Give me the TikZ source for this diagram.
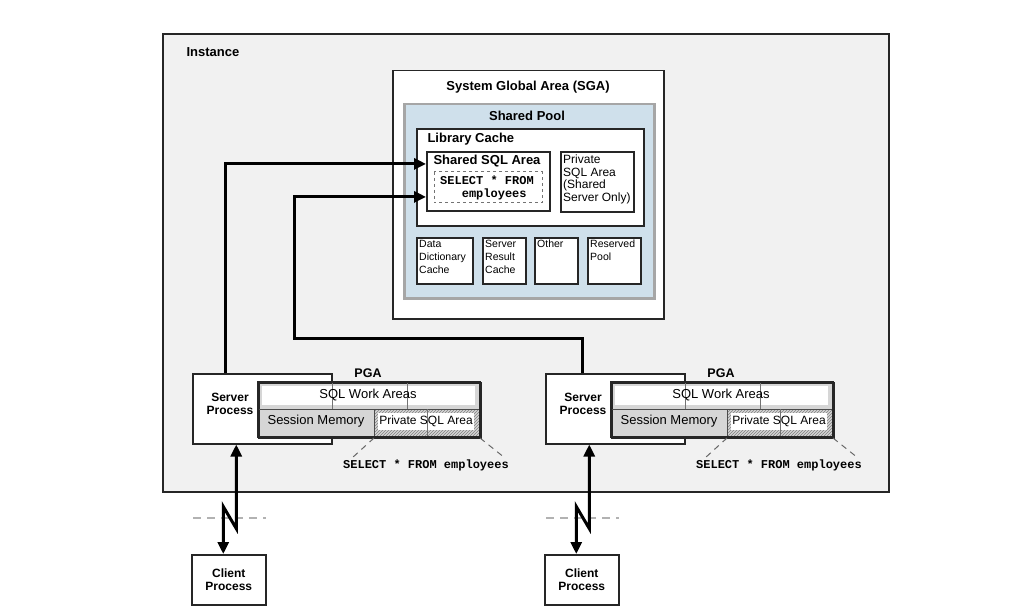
\documentclass[tikz,border=0pt]{standalone}
\usepackage{fontspec}
\setmainfont{Liberation Sans}
\setmonofont{Liberation Mono}
\usetikzlibrary{arrows.meta,patterns}
\definecolor{instgray}{HTML}{F1F1F1}
\definecolor{poolblue}{HTML}{CFE0EB}
\definecolor{pgagray}{HTML}{D6D6D6}
\tikzset{
  area/.style={draw=black!85, line width=1.5pt, fill=white, anchor=north west, inner sep=0pt},
  ttl/.style={font=\bfseries\fontsize{13}{14}\selectfont},
  txt/.style={font=\fontsize{13}{14}\selectfont},
  small/.style={font=\fontsize{10.5}{13}\selectfont, align=left, anchor=north west, inner sep=0pt},
  code/.style={font=\ttfamily\bfseries\fontsize{12}{13}\selectfont},
  link/.style={line width=3pt, -{Triangle[length=12pt,width=11pt]}},
}
\begin{document}
\begin{tikzpicture}[x=1pt,y=-1pt]
   \useasboundingbox (0,0) rectangle (1024,612);
   \fill[white] (0,0) rectangle (1024,612);
   % instance
   \node[area, fill=instgray, line width=1.7pt, minimum width=726pt, minimum height=458pt] (inst) at (162,33) {};
   \node[ttl, anchor=west] at (183,52) {Instance};
   % SGA
   \node[area, minimum width=271pt, minimum height=248pt] (sga) at (392,70) {};
   \node[ttl] at (528,87) {System Global Area (SGA)};
   \node[area, fill=poolblue, draw=black!35, line width=2.5pt, minimum width=250pt, minimum height=194pt] (pool) at (403,103) {};
   \node[ttl] at (527,116) {Shared Pool};
   \node[area, line width=1.8pt, minimum width=227pt, minimum height=97pt] (lib) at (416,128) {};
   \node[ttl, anchor=west] at (424,139) {Library Cache};
   \node[area, line width=1.8pt, minimum width=123pt, minimum height=59pt] (ssql) at (426,151) {};
   \node[ttl] at (487,161) {Shared SQL Area};
   \draw[dashed, draw=black!55, line width=1pt] (434,172) rectangle (542,203);
   \node[code, align=left] at (487,188) {SELECT * FROM\\\phantom{SEL}employees};
   \node[area, line width=1.8pt, minimum width=73pt, minimum height=60pt] (psql) at (560,151) {};
   \node[small, font=\fontsize{12}{12.5}\selectfont] at (563,155) {Private\\SQL Area\\(Shared\\Server Only)};
   \node[area, line width=1.8pt, minimum width=56pt, minimum height=46pt] (ddc) at (416,237) {};
   \node[small] at (419,240) {Data\\Dictionary\\Cache};
   \node[area, line width=1.8pt, minimum width=43pt, minimum height=46pt] (src) at (482,237) {};
   \node[small] at (485,240) {Server\\Result\\Cache};
   \node[area, line width=1.8pt, minimum width=43pt, minimum height=46pt] (oth) at (534,237) {};
   \node[small] at (537,240) {Other};
   \node[area, line width=1.8pt, minimum width=53pt, minimum height=46pt] (rsv) at (587,237) {};
   \node[small] at (590,240) {Reserved\\Pool};
   % server side, twice
   \foreach \i/\dx in {1/0,2/353}{
   \node[area, minimum width=139pt, minimum height=70pt] (srv\i) at (192+\dx,373) {};
   \node[ttl, font=\bfseries\fontsize{12}{12.5}\selectfont, align=center] at (230+\dx,404) {Server\\Process};
   \node[ttl, font=\bfseries\fontsize{12.5}{13}\selectfont] at (368+\dx,373) {PGA};
   \node[area, fill=pgagray, minimum width=222pt, minimum height=55pt] (pga\i) at (258+\dx,382) {};
   \fill[white] (262+\dx,386) rectangle (475+\dx,405);
   \fill[pattern=north east lines, pattern color=black!50] (374+\dx,409) rectangle (480+\dx,437);
   \fill[white] (378+\dx,413) rectangle (474+\dx,430);
   \draw[black!70, line width=1pt] (258+\dx,409) -- (480+\dx,409) (374+\dx,409) -- (374+\dx,437);
   \draw[black!55, line width=0.8pt] (332+\dx,382) -- (332+\dx,409) (407+\dx,382) -- (407+\dx,409)
   (427+\dx,409) -- (427+\dx,437);
   \draw[black!85, line width=1.5pt] (258+\dx,382) rectangle (480+\dx,437);
   \node[txt] at (368+\dx,395) {SQL Work Areas};
   \node[txt] at (316+\dx,421) {Session Memory};
   \node[txt, font=\fontsize{12}{13}\selectfont] at (426+\dx,421) {Private SQL Area};
   \draw[black!60, line width=1pt, dash pattern=on 6pt off 5pt] (374+\dx,438) -- (352+\dx,458) (480+\dx,438) -- (505+\dx,458);
   \node[code] at (426+\dx,465) {SELECT * FROM employees};
   % client
   \draw[black!30, line width=2pt, dash pattern=on 8pt off 6pt] (193+\dx,518) -- (266+\dx,518);
   \node[area, minimum width=74pt, minimum height=50pt] (cli\i) at (191+\dx,554) {};
   \node[ttl, font=\bfseries\fontsize{12}{12.5}\selectfont, align=center] at (cli\i) {Client\\Process};
   \draw[link, {Triangle[length=12pt,width=11pt]}-{Triangle[length=12pt,width=11pt]}]
   ([xshift=-26pt]srv\i.south) -- ++(0,84) -- ++(-13,-22) -- ([xshift=-5.5pt]cli\i.north);
   }
   % links to the shared SQL area
   \draw[link] ([xshift=-36.5pt]srv1.north) |- ([yshift=17.5pt]ssql.west);
   \draw[link] ([xshift=-32.5pt]srv2.north) |- (294,338) |- ([yshift=-15.5pt]ssql.west);
\end{tikzpicture}
\end{document}
